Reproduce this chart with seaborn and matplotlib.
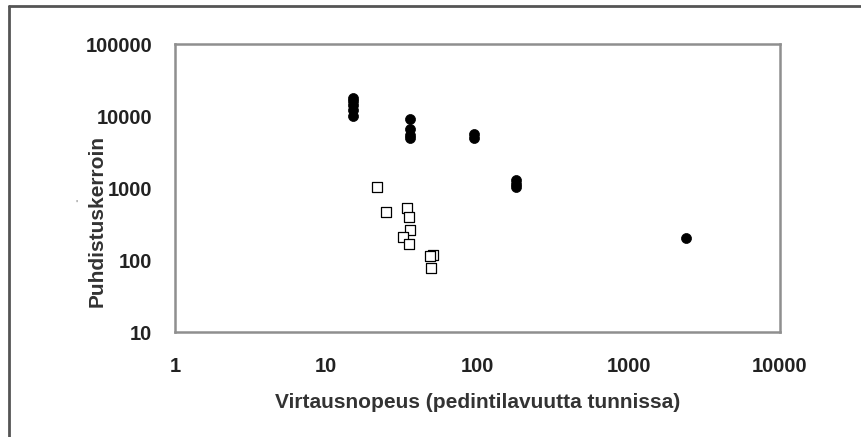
import matplotlib
matplotlib.use("Agg")
import matplotlib.pyplot as plt
import seaborn as sns
import pandas as pd
from matplotlib.lines import Line2D

# Data
filled_x = [15, 15, 15, 15, 15, 36, 36, 36, 36, 95, 95, 180, 180, 180, 2400]
filled_y = [10000, 12000, 14000, 16000, 18000, 9000, 6500, 5500, 5000, 5600, 5000, 1300, 1150, 1030, 200]
open_x = [21.5, 24.8, 34.2, 35.5, 35.8, 32, 35.5, 50.5, 48.5, 49.5]
open_y = [1030, 465, 520, 400, 260, 210, 165, 118, 112, 78]
series_names = ["filled", "open"]

x_ticks = [1, 10, 100, 1000, 10000]
y_ticks = [10, 100, 1000, 10000, 100000]
x_label = "Virtausnopeus (pedintilavuutta tunnissa)"
y_label = "Puhdistuskerroin"

df = pd.DataFrame({
    "x": filled_x + open_x,
    "y": filled_y + open_y,
    "s": [series_names[0]] * len(filled_x) + [series_names[1]] * len(open_x),
})

sns.set_style("white")
plt.rcParams["font.family"] = ["Liberation Sans", "DejaVu Sans"]

fig = plt.figure(figsize=(8.61, 4.37), dpi=100)
ax = fig.add_axes([175 / 861, 1 - 332 / 437, 605 / 861, 288 / 437])

sns.scatterplot(data=df[df.s == "filled"], x="x", y="y", ax=ax, marker="o",
                color="black", s=52, edgecolor="black", linewidth=0.5, legend=False, zorder=3)
sns.scatterplot(data=df[df.s == "open"], x="x", y="y", ax=ax, marker="s",
                facecolor="white", s=58, edgecolor="black", linewidth=0.9, legend=False, zorder=3)

ax.set_xscale("log")
ax.set_yscale("log")
ax.set_xlim(1, 10000)
ax.set_ylim(10, 100000)
ax.set_xticks(x_ticks)
ax.set_xticklabels([str(v) for v in x_ticks])
ax.set_yticks(y_ticks)
ax.set_yticklabels([str(v) for v in y_ticks])
ax.minorticks_off()

spine_c = "#8f8f8f"
for side in ["left", "bottom", "top", "right"]:
    ax.spines[side].set_visible(True)
    ax.spines[side].set_color(spine_c)
    ax.spines[side].set_linewidth(1.8)

ax.tick_params(axis="y", direction="out", length=6, width=1.2, color="#666666",
               pad=10.5, labelsize=14.5, labelcolor="#222222")
ax.tick_params(axis="x", direction="inout", length=7, width=1.0, color="#666666",
               pad=14.5, labelsize=14.5, labelcolor="#222222")
for lab in ax.get_xticklabels() + ax.get_yticklabels():
    lab.set_fontweight("bold")

ax.set_xlabel(x_label, fontsize=15, fontweight="bold", color="#333333")
ax.set_ylabel(y_label, fontsize=15, fontweight="bold", color="#333333")
ax.xaxis.set_label_coords(0.50, -0.212)
ax.yaxis.set_label_coords(-0.113, 0.385)

# outer frame (left and top)
fig.add_artist(Line2D([9 / 861, 9 / 861], [0, 1 - 6 / 437], transform=fig.transFigure,
                      color="#555555", linewidth=2))
fig.add_artist(Line2D([9 / 861, 1], [1 - 6 / 437, 1 - 6 / 437], transform=fig.transFigure,
                      color="#555555", linewidth=2))
fig.text(76 / 861, 1 - 205 / 437, "'", fontsize=8, color="#777777", ha="center", va="center")

fig.savefig("out.png", dpi=100)
